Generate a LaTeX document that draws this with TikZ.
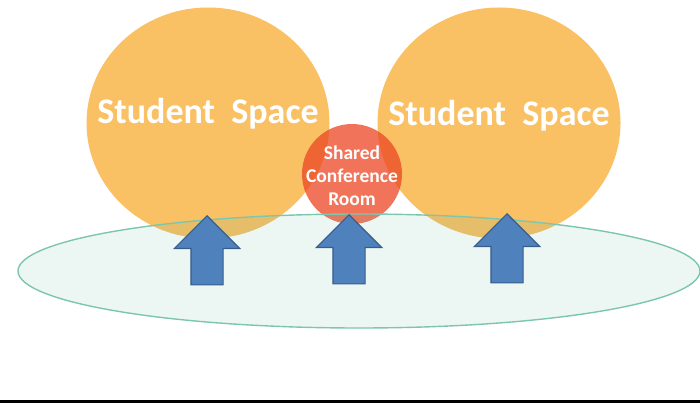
\documentclass[tikz,border=0pt]{standalone}
\usepackage{fontspec}
\usepackage{tikz}
\usetikzlibrary{shapes.geometric,shapes.arrows}
\newfontfamily\calibrifont{Carlito}
\definecolor{spaceorange}{RGB}{249,192,100}
\definecolor{roomred}{RGB}{236,70,35}
\definecolor{groundgreen}{RGB}{95,180,150}
\definecolor{groundedge}{RGB}{125,198,174}
\definecolor{arrowblue}{RGB}{79,129,189}
\definecolor{arrowedge}{RGB}{56,93,138}

\begin{document}
\begin{tikzpicture}[
    x=1pt, y=-1pt,
    space/.style={ellipse, fill=spaceorange, minimum width=243pt, minimum height=231pt, inner sep=0pt},
    room/.style={circle, fill=roomred, fill opacity=0.75, minimum size=100pt, inner sep=0pt},
    ground/.style={ellipse, draw=groundedge, line width=1.4pt, fill=groundgreen, fill opacity=0.12, minimum width=682pt, minimum height=114pt, inner sep=0pt},
    spacelabel/.style={text=white, font=\calibrifont\bfseries\fontsize{36}{40}\selectfont},
    roomlabel/.style={text=white, align=center, font=\calibrifont\bfseries\fontsize{19.5}{23}\selectfont},
    uparrow/.style={single arrow, rotate=90, anchor=tip, draw=arrowedge, line width=1.2pt, fill=arrowblue, minimum height=69pt, inner xsep=0pt, inner ysep=15.5pt, single arrow head extend=16.5pt, single arrow tip angle=90}
]
\useasboundingbox (0,0) rectangle (700,403);
\fill[black] (0,400) rectangle (700,403);

\node[space] (leftspace) at (208,123) {};
\node[space] (rightspace) at (499,123) {};
\node[room] (room) at (352,174) {};
\node[spacelabel] (leftlabel) at (208,114) {Student\ \ Space};
\node[spacelabel] (rightlabel) at (499,116) {Student\ \ Space};
\node[roomlabel] (roomlabel) at (352,176) {Shared\\Conference\\Room};

\node[ground] (ground) at (359,271) {};

\node[uparrow] (leftarrow) at (207,215) {};
\node[uparrow] (midarrow) at (349,214) {};
\node[uparrow] (rightarrow) at (507,213) {};
\end{tikzpicture}
\end{document}
